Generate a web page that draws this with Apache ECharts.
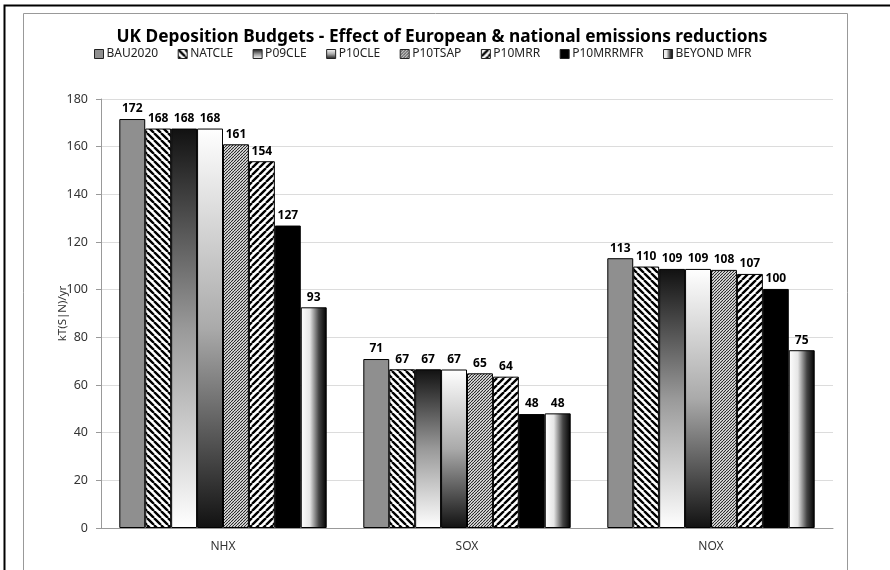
<!DOCTYPE html>
<html>
<head>
<meta charset="utf-8">
<script src="https://cdn.jsdelivr.net/npm/echarts@6/dist/echarts.min.js"></script>
<style>
  html, body { margin: 0; padding: 0; background: #fff; }
  #chart { width: 890px; height: 570px; }
</style>
</head>
<body>
<div id="chart"></div>
<script>
//  分类
const categories = ['NHX', 'SOX', 'NOX'];
//  图例 / 系列名
const seriesNames = ['BAU2020', 'NATCLE', 'P09CLE', 'P10CLE', 'P10TSAP', 'P10MRR', 'P10MRRMFR', 'BEYOND MFR'];
//  每个系列在 NHX, SOX, NOX 的值
const bau2020 = [171.6, 70.9, 113.2];
const natcle = [167.6, 66.6, 109.7];
const p09cle = [167.6, 66.6, 108.7];
const p10cle = [167.6, 66.5, 108.7];
const p10tsap = [161.0, 64.9, 108.3];
const p10mrr = [153.9, 63.5, 106.6];
const p10mrrmfr = [126.9, 47.8, 100.3];
const beyondMfr = [92.6, 48.1, 74.6];
const yTicks = [0, 20, 40, 60, 80, 100, 120, 140, 160, 180];

//  斜线填充
function stripes(size, width, dir, bg, fg) {
    const c = document.createElement('canvas');
    c.width = size;
    c.height = size;
    const ctx = c.getContext('2d');
    ctx.fillStyle = bg;
    ctx.fillRect(0, 0, size, size);
    ctx.strokeStyle = fg;
    ctx.lineWidth = width;
    ctx.beginPath();
    for (let k = -1; k <= 1; k++) {
        if (dir === '\\') {
            ctx.moveTo(k * size, 0);
            ctx.lineTo(k * size + size, size);
        } else {
            ctx.moveTo(k * size, size);
            ctx.lineTo(k * size + size, 0);
        }
    }
    ctx.stroke();
    return {image: c, repeat: 'repeat'};
}

const fills = [
    '#8f8f8f',
    stripes(7, 2.4, '\\', '#fff', '#000'),
    new echarts.graphic.LinearGradient(0, 0, 0, 1, [
        {offset: 0, color: '#111'},
        {offset: 0.5, color: '#999'},
        {offset: 1, color: '#fff'}
    ]),
    new echarts.graphic.LinearGradient(0, 0, 0, 1, [
        {offset: 0, color: '#fff'},
        {offset: 0.5, color: '#aaa'},
        {offset: 1, color: '#111'}
    ]),
    stripes(3, 1.1, '/', '#fff', '#222'),
    stripes(7, 2.4, '/', '#fff', '#000'),
    '#000',
    new echarts.graphic.LinearGradient(0, 0, 1, 0, [
        {offset: 0, color: '#fff'},
        {offset: 0.35, color: '#e6e6e6'},
        {offset: 0.7, color: '#444'},
        {offset: 1, color: '#000'}
    ])
];

const values = [bau2020, natcle, p09cle, p10cle, p10tsap, p10mrr, p10mrrmfr, beyondMfr];

const option = {
    animation: false,
    backgroundColor: '#fff',
    title: {
        text: 'UK Deposition Budgets - Effect of European & national emissions reductions',
        left: 437,
        textAlign: 'center',
        top: 24,
        textStyle: {
            fontFamily: 'Noto Sans',
            fontWeight: 'bold',
            fontSize: 17.3,
            color: '#000'
        }
    },
    legend: {
        data: seriesNames,
        left: 89,
        top: 43,
        itemWidth: 9,
        itemHeight: 9,
        itemGap: 19.5,
        icon: 'rect',
        selectedMode: false,
        itemStyle: {borderColor: '#222', borderWidth: 1},
        textStyle: {fontFamily: 'Noto Sans', fontSize: 12, color: '#222', padding: [0, 0, 0, -2]}
    },
    grid: {
        left: 101,
        right: 57,
        top: 99,
        bottom: 42
    },
    xAxis: {
        type: 'category',
        data: categories,
        axisLine: {lineStyle: {color: '#999', width: 1}},
        axisTick: {length: 5, lineStyle: {color: '#999'}},
        axisLabel: {fontFamily: 'Noto Sans', fontSize: 12, color: '#333', margin: 13}
    },
    yAxis: {
        type: 'value',
        min: 0,
        max: 180,
        interval: 20,
        name: 'kT(S|N)/yr',
        nameLocation: 'middle',
        nameGap: 32,
        nameMoveOverlap: false,
        nameTextStyle: {fontFamily: 'Noto Sans', fontSize: 11.5, color: '#333'},
        axisLine: {show: true, lineStyle: {color: '#999', width: 1}},
        axisTick: {show: true, length: 5, lineStyle: {color: '#999'}},
        axisLabel: {
            fontFamily: 'Noto Sans', fontSize: 12.5, color: '#333', margin: 13,
            formatter: function (v) { return yTicks.indexOf(v) >= 0 ? String(v) : ''; }
        },
        splitLine: {lineStyle: {color: '#dcdcdc', width: 1}}
    },
    graphic: [
        {
            type: 'rect', silent: true, z: 100,
            shape: {x: 4.5, y: 5.5, width: 900, height: 600},
            style: {fill: 'none', stroke: '#000', lineWidth: 2}
        },
        {
            type: 'rect', silent: true, z: 100,
            shape: {x: 23.5, y: 13.5, width: 824, height: 600},
            style: {fill: 'none', stroke: '#999', lineWidth: 1}
        }
    ],
    series: seriesNames.map(function (name, i) {
        return {
            name: name,
            type: 'bar',
            data: values[i],
            barGap: '0%',
            barCategoryGap: '15%',
            itemStyle: {
                color: fills[i],
                borderColor: '#000',
                borderWidth: 1
            },
            label: {
                show: true,
                position: 'top',
                distance: 4,
                fontFamily: 'Noto Sans',
                fontWeight: 'bold',
                fontSize: 12,
                color: '#000',
                formatter: function (p) { return String(Math.round(p.value)); }
            }
        };
    })
};

const myChart = echarts.init(document.getElementById('chart'));
myChart.setOption(option);
</script>
</body>
</html>
